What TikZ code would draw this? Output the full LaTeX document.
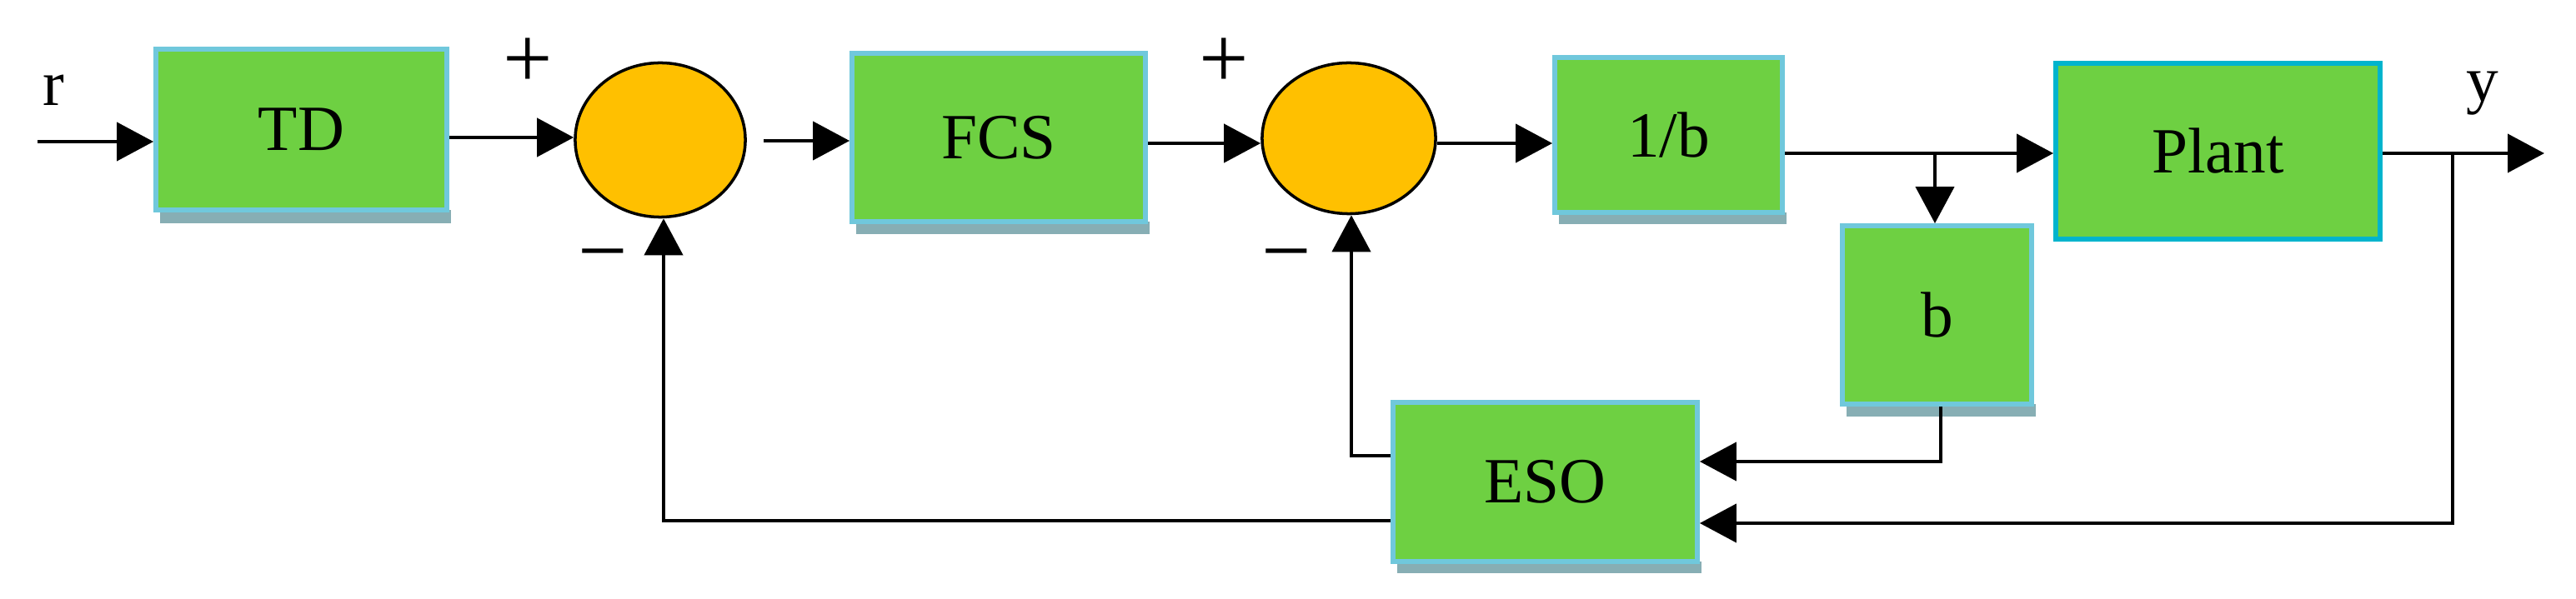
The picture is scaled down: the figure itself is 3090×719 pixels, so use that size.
\documentclass[tikz,border=0pt]{standalone}
\usepackage{fontspec}
\setmainfont{Liberation Serif}
\usetikzlibrary{arrows.meta,calc,shapes.geometric}
\begin{document}
\begin{tikzpicture}[x=0.01cm,y=-0.01cm,
  blk/.style={draw={rgb,255:red,112;green,200;blue,220},line width=1.6pt,fill={rgb,255:red,110;green,208;blue,66},inner sep=0pt,font=\fontsize{22}{26}\selectfont},
  sumn/.style={ellipse,draw=black,line width=1pt,fill={rgb,255:red,255;green,192;blue,0},minimum width=2.04cm,minimum height=1.85cm,inner sep=0pt},
  shd/.style={fill={rgb,255:red,135;green,174;blue,180}},
  ln/.style={line width=1.2pt,draw=black},
  arr/.style={ln,-{Triangle[length=0.44cm,width=0.46cm]}},
  sg/.style={font=\fontsize{30}{30}\selectfont,inner sep=0pt}]
\useasboundingbox (0,0) rectangle (3090,719);
% shadows
\fill[shd] (192,252) rectangle (541,268);
\fill[shd] (1027,266) rectangle (1379,281);
\fill[shd] (1870,255) rectangle (2143,269);
\fill[shd] (2215,485) rectangle (2442,500);
\fill[shd] (1676,674) rectangle (2041,688);
% blocks
\node[blk,minimum width=3.49cm,minimum height=1.93cm] (td) at (361.5,155.5) {TD};
\node[blk,minimum width=3.52cm,minimum height=2.02cm] (fcs) at (1198,165) {FCS};
\node[blk,minimum width=2.73cm,minimum height=1.86cm] (ib) at (2001.5,162) {1/b};
\node[blk,draw={rgb,255:red,0;green,180;blue,205},minimum width=3.89cm,minimum height=2.11cm] (pl) at (2660.5,181.5) {Plant};
\node[blk,minimum width=2.27cm,minimum height=2.14cm] (b) at (2323.5,378) {b};
\node[blk,minimum width=3.65cm,minimum height=1.91cm] (eso) at (1853.5,578.5) {ESO};
\node[sumn] (s1) at (792,168) {};
\node[sumn,minimum width=2.08cm,minimum height=1.81cm] (s2) at (1618,166) {};
% labels
\node[sg] (p1) at (633,76) {+};
\node[sg] (p2) at (1468,76) {+};
\node[sg] (m1) at (723,318) {\textminus};
\node[sg] (m2) at (1543,318) {\textminus};
\node[font=\fontsize{22}{26}\selectfont] (r) at (64,108) {r};
\node[font=\fontsize{22}{26}\selectfont] (y) at (2978,112) {y};
% coordinates
\coordinate (in) at (45,170);
\coordinate (out) at (3052,184);
\coordinate (br) at (2321,184);
\coordinate (yb) at (2942,184);
\coordinate (fb1) at (796,625);
% connectors
\draw[arr] (in) -- (td.west |- in);
\draw[arr] (td.east |- 0,165) -- (s1.west |- 0,165);
\draw[arr] (916,169) -- (fcs.west |- 0,169);
\draw[arr] (fcs.east |- 0,172) -- (s2.west |- 0,172);
\draw[arr] (s2.east |- 0,172) -- (ib.west |- 0,172);
\draw[arr] (ib.east |- br) -- (pl.west |- br);
\draw[arr] (br) -- (br |- b.north);
\draw[arr] (pl.east |- out) -- (out);
\draw[arr] (b.south -| 2328,0) -- (2328,554) -- (eso.east |- 0,554);
\draw[arr] (yb) -- (2942,628) -- (eso.east |- 0,628);
\draw[arr] (eso.west |- 0,547) -- (1621,547) -- (s2.south -| 1621,0);
\draw[arr] (eso.west |- fb1) -- (fb1) -- (s1.south -| fb1);
\end{tikzpicture}
\end{document}
